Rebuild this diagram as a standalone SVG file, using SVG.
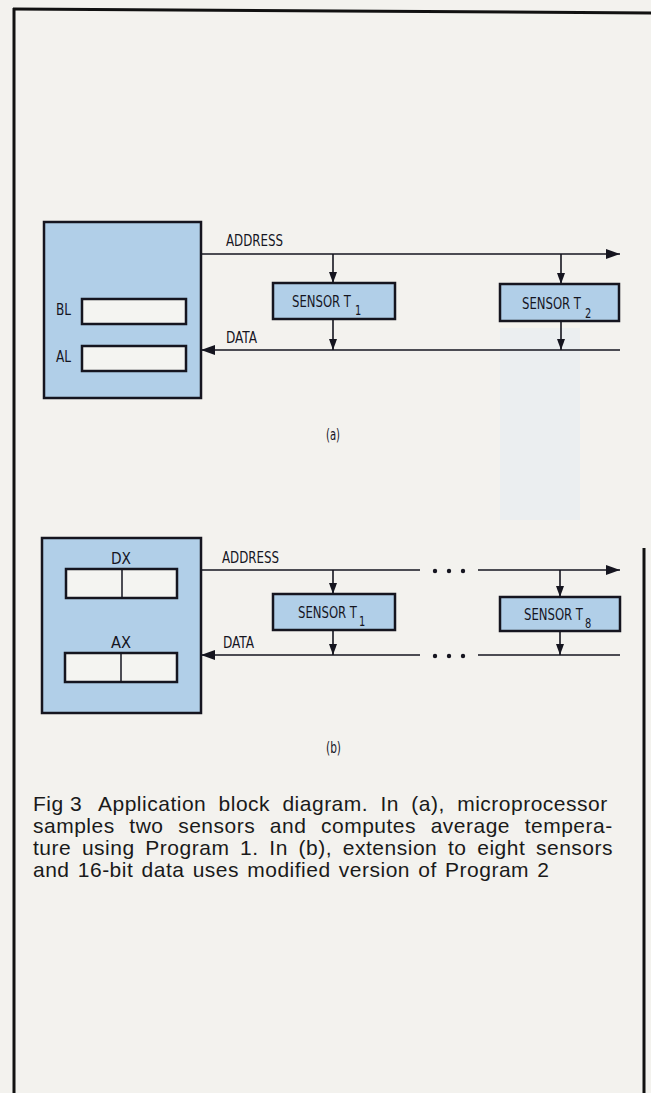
<svg xmlns="http://www.w3.org/2000/svg" width="651" height="1093" viewBox="0 0 651 1093">
<style>
.bg{fill:#f3f2ee}
.cpu{fill:#b1cfe8;stroke:#15151f;stroke-width:2.5}
.reg{fill:#f4f4f1;stroke:#15151f;stroke-width:2.5}
.sen{fill:#b1cfe8;stroke:#15151f;stroke-width:2.5}
.bus{stroke:#15151f;stroke-width:1.6;fill:none}
.div{stroke:#15151f;stroke-width:1.5}
.lbl{font-family:"DejaVu Sans Condensed","Liberation Sans Narrow","Liberation Sans",sans-serif;font-stretch:condensed;font-size:13.5px;fill:#15151f}
.sub{font-family:"DejaVu Sans Condensed","Liberation Sans Narrow","Liberation Sans",sans-serif;font-stretch:condensed;font-size:11px;fill:#15151f}
.cap{font-family:"Liberation Sans",Arial,sans-serif;font-size:21px;letter-spacing:0.5px;fill:#1a1a1a}
.dot{fill:#15151f}
.frame{stroke:#111;stroke-width:3;fill:none}
</style>
<defs>
<marker id="ah" markerUnits="userSpaceOnUse" markerWidth="14" markerHeight="10" refX="14" refY="5" orient="auto">
<path d="M0,0 L14,5 L0,10 z" fill="#15151f"/>
</marker>
<marker id="av" markerUnits="userSpaceOnUse" markerWidth="11" markerHeight="8" refX="11" refY="4" orient="auto">
<path d="M0,0 L11,4 L0,8 z" fill="#15151f"/>
</marker>
</defs>
<rect class="bg" x="0" y="0" width="651" height="1093"/>
<rect x="500" y="328" width="80" height="192" fill="#ebeef0"/>
<g id="frame">
<line class="frame" x1="13" y1="9" x2="651" y2="13"/>
<line class="frame" x1="14" y1="8" x2="14" y2="1093"/>
<line class="frame" x1="644" y1="548" x2="644" y2="1093"/>
</g>

<g id="connectors">
<line class="bus" x1="201" y1="254" x2="620" y2="254" marker-end="url(#ah)"/>
<line class="bus" x1="620" y1="350" x2="201" y2="350" marker-end="url(#ah)"/>
<line class="bus" x1="333" y1="254" x2="333" y2="283" marker-end="url(#av)"/>
<line class="bus" x1="333" y1="319" x2="333" y2="350" marker-end="url(#av)"/>
<line class="bus" x1="561" y1="254" x2="561" y2="284" marker-end="url(#av)"/>
<line class="bus" x1="561" y1="321" x2="561" y2="350" marker-end="url(#av)"/>

<line class="bus" x1="201" y1="570" x2="420" y2="570"/>
<line class="bus" x1="478" y1="570" x2="620" y2="570" marker-end="url(#ah)"/>
<line class="bus" x1="620" y1="655" x2="478" y2="655"/>
<line class="bus" x1="420" y1="655" x2="201" y2="655" marker-end="url(#ah)"/>
<circle class="dot" cx="435" cy="571" r="2.2"/>
<circle class="dot" cx="449" cy="571" r="2.2"/>
<circle class="dot" cx="463" cy="571" r="2.2"/>
<circle class="dot" cx="435" cy="656" r="2.2"/>
<circle class="dot" cx="449" cy="656" r="2.2"/>
<circle class="dot" cx="463" cy="656" r="2.2"/>
<line class="bus" x1="333" y1="570" x2="333" y2="594" marker-end="url(#av)"/>
<line class="bus" x1="333" y1="630" x2="333" y2="655" marker-end="url(#av)"/>
<line class="bus" x1="560" y1="570" x2="560" y2="597" marker-end="url(#av)"/>
<line class="bus" x1="560" y1="631" x2="560" y2="655" marker-end="url(#av)"/>
<text class="lbl" transform="translate(226,246) scale(1,1.2)" textLength="57" lengthAdjust="spacingAndGlyphs">ADDRESS</text>
<text class="lbl" transform="translate(226,343) scale(1,1.2)" textLength="31" lengthAdjust="spacingAndGlyphs">DATA</text>
<text class="lbl" transform="translate(222,563) scale(1,1.2)" textLength="57" lengthAdjust="spacingAndGlyphs">ADDRESS</text>
<text class="lbl" transform="translate(223,648) scale(1,1.2)" textLength="31" lengthAdjust="spacingAndGlyphs">DATA</text>
</g>

<g id="cpu-a">
<rect class="cpu" x="44" y="222" width="157" height="176"/>
<rect class="reg" x="82" y="299" width="104" height="25"/>
<rect class="reg" x="82" y="346" width="104" height="25"/>
<text class="lbl" transform="translate(56,315) scale(1,1.2)" textLength="15" lengthAdjust="spacingAndGlyphs">BL</text>
<text class="lbl" transform="translate(56,362) scale(1,1.2)" textLength="15" lengthAdjust="spacingAndGlyphs">AL</text>
</g>
<g id="sensor-t1-a">
<rect class="sen" x="273" y="283" width="122" height="36"/>
<text class="lbl" transform="translate(292,307) scale(1,1.2)" textLength="59" lengthAdjust="spacingAndGlyphs">SENSOR T</text>
<text class="sub" transform="translate(355,315) scale(1,1.2)">1</text>
</g>
<g id="sensor-t2-a">
<rect class="sen" x="500" y="284" width="119" height="37"/>
<text class="lbl" transform="translate(522,309) scale(1,1.2)" textLength="59" lengthAdjust="spacingAndGlyphs">SENSOR T</text>
<text class="sub" transform="translate(585,318) scale(1,1.2)">2</text>
</g>
<text class="lbl" transform="translate(326,440) scale(1,1.2)" textLength="14" lengthAdjust="spacingAndGlyphs">(a)</text>

<g id="cpu-b">
<rect class="cpu" x="42" y="538" width="159" height="175"/>
<text class="lbl" transform="translate(111,564) scale(1,1.2)" textLength="20" lengthAdjust="spacingAndGlyphs">DX</text>
<rect class="reg" x="66" y="569" width="111" height="29"/>
<line class="div" x1="122" y1="569" x2="122" y2="598"/>
<text class="lbl" transform="translate(111,648) scale(1,1.2)" textLength="20" lengthAdjust="spacingAndGlyphs">AX</text>
<rect class="reg" x="65" y="653" width="112" height="29"/>
<line class="div" x1="121" y1="653" x2="121" y2="682"/>
</g>
<g id="sensor-t1-b">
<rect class="sen" x="273" y="594" width="122" height="36"/>
<text class="lbl" transform="translate(298,618) scale(1,1.2)" textLength="59" lengthAdjust="spacingAndGlyphs">SENSOR T</text>
<text class="sub" transform="translate(359,626) scale(1,1.2)">1</text>
</g>
<g id="sensor-t8-b">
<rect class="sen" x="500" y="597" width="120" height="34"/>
<text class="lbl" transform="translate(524,620) scale(1,1.2)" textLength="59" lengthAdjust="spacingAndGlyphs">SENSOR T</text>
<text class="sub" transform="translate(585,628) scale(1,1.2)">8</text>
</g>
<text class="lbl" transform="translate(326,753) scale(1,1.2)" textLength="15" lengthAdjust="spacingAndGlyphs">(b)</text>

<g id="caption">
<text class="cap" x="33" y="811">Fig 3</text>
<text class="cap" x="98" y="811" word-spacing="6">Application block diagram. In (a), microprocessor</text>
<text class="cap" x="33" y="833" word-spacing="8.3">samples two sensors and computes average tempera-</text>
<text class="cap" x="33" y="855" word-spacing="4.4">ture using Program 1. In (b), extension to eight sensors</text>
<text class="cap" x="33" y="877" word-spacing="1.9">and 16-bit data uses modified version of Program 2</text>
</g>
</svg>
